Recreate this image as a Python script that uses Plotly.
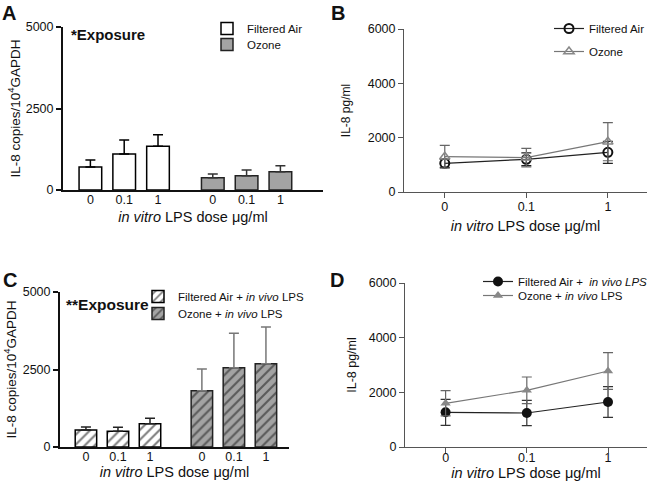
import plotly.graph_objects as go

doses = ["0", "0.1", "1"]

# Panel A (bars, copies/10^4 GAPDH)
a_fa = [705, 1104, 1340]
a_fa_err = [215, 430, 357]
a_oz = [378, 440, 562]
a_oz_err = [113, 173, 184]

# Panel B (IL-8 pg/ml)
b_fa = [1056, 1203, 1460]
b_fa_err = [147, 234, 404]
b_oz = [1300, 1265, 1851]
b_oz_err = [418, 343, 700]

# Panel C (bars, in vivo LPS)
c_fa = [548, 505, 753]
c_fa_err = [97, 129, 172]
c_oz = [1817, 2559, 2688]
c_oz_err = [699, 1108, 1183]

# Panel D (IL-8 pg/ml, in vivo LPS)
d_fa = [1269, 1244, 1646]
d_fa_err = [476, 460, 560]
d_oz = [1598, 2074, 2780]
d_oz_err = [462, 487, 671]

W, H = 654, 487
FONT = "Liberation Sans, Arial, sans-serif"
GRAY = "#a3a3a3"
GROUP_GAP = 1.62
BAR_W = 0.67

def px_x(p):
    return p / W

def px_y(p):
    return 1 - p / H

pos_fa = [i for i in range(len(doses))]
pos_oz = [i + len(doses) + GROUP_GAP - 1 for i in range(len(doses))]

fig = go.Figure()

xtitle = "<i>in vitro</i> LPS dose \u03bcg/ml"

# ---- Panel A ----
fig.add_trace(go.Bar(x=pos_fa, y=a_fa, width=BAR_W, name="Filtered Air",
                     marker=dict(color="white", line=dict(color="black", width=1.5)),
                     error_y=dict(type="data", symmetric=False, array=a_fa_err, arrayminus=[0]*3,
                                  color="black", thickness=1.5, width=5),
                     xaxis="x", yaxis="y", legend="legend"))
fig.add_trace(go.Bar(x=pos_oz, y=a_oz, width=BAR_W, name="Ozone",
                     marker=dict(color=GRAY, line=dict(color="#222", width=1.5)),
                     error_y=dict(type="data", symmetric=False, array=a_oz_err, arrayminus=[0]*3,
                                  color="#333", thickness=1.5, width=5),
                     xaxis="x", yaxis="y", legend="legend2"))

# ---- Panel B ----
fig.add_trace(go.Scatter(x=doses, y=b_fa, name="Filtered Air", mode="lines+markers",
                         line=dict(color="#222", width=1.2),
                         marker=dict(symbol="circle-open", size=9, color="#111", line=dict(width=2)),
                         error_y=dict(type="data", array=b_fa_err, color="#222", thickness=1.2, width=5),
                         xaxis="x2", yaxis="y2", legend="legend3"))
fig.add_trace(go.Scatter(x=doses, y=b_oz, name="Ozone", mode="lines+markers",
                         line=dict(color="#777", width=1.2),
                         marker=dict(symbol="triangle-up-open", size=9, color="#888", line=dict(width=1.5)),
                         error_y=dict(type="data", array=b_oz_err, color="#666", thickness=1.2, width=5),
                         xaxis="x2", yaxis="y2", legend="legend4"))

# ---- Panel C ----
fig.add_trace(go.Bar(x=pos_fa, y=c_fa, width=BAR_W, name="Filtered Air + <i>in vivo</i> LPS",
                     marker=dict(color="white", line=dict(color="black", width=1.5),
                                 pattern=dict(shape="/", fgcolor="black", bgcolor="white",
                                              size=7, solidity=0.3)),
                     error_y=dict(type="data", symmetric=False, array=c_fa_err, arrayminus=[0]*3,
                                  color="#222", thickness=1.5, width=5),
                     xaxis="x3", yaxis="y3", legend="legend5"))
fig.add_trace(go.Bar(x=pos_oz, y=c_oz, width=BAR_W, name="Ozone + <i>in vivo</i> LPS",
                     marker=dict(color=GRAY, line=dict(color="#222", width=1.5),
                                 pattern=dict(shape="/", fgcolor="#111", bgcolor=GRAY,
                                              size=7, solidity=0.3)),
                     error_y=dict(type="data", symmetric=False, array=c_oz_err, arrayminus=[0]*3,
                                  color="#777", thickness=1.5, width=5),
                     xaxis="x3", yaxis="y3", legend="legend6"))

# ---- Panel D ----
fig.add_trace(go.Scatter(x=doses, y=d_fa, name="Filtered Air +  <i>in vivo LPS</i>", mode="lines+markers",
                         line=dict(color="#222", width=1.2),
                         marker=dict(symbol="circle", size=10, color="#111"),
                         error_y=dict(type="data", array=d_fa_err, color="#333", thickness=1.2, width=5),
                         xaxis="x4", yaxis="y4", legend="legend7"))
fig.add_trace(go.Scatter(x=doses, y=d_oz, name="Ozone + <i>in vivo</i> LPS", mode="lines+markers",
                         line=dict(color="#777", width=1.2),
                         marker=dict(symbol="triangle-up", size=9, color="#888"),
                         error_y=dict(type="data", array=d_oz_err, color="#666", thickness=1.2, width=5),
                         xaxis="x4", yaxis="y4", legend="legend8"))

tickfont = dict(family=FONT, size=12.5, color="#111")
titlefont = dict(family=FONT, size=14.5, color="#111")

def bar_xaxis(dom, rng, tls, ts):
    return dict(domain=dom, range=rng, showgrid=False, zeroline=False, showline=True,
                linecolor="#111", linewidth=2, ticks="", tickmode="array",
                tickvals=pos_fa + pos_oz, ticktext=doses + doses, tickfont=tickfont,
                automargin=False, ticklabelstandoff=tls,
                title=dict(text=xtitle, font=titlefont, standoff=ts), fixedrange=True)

def line_xaxis(dom, anchor, tls, ts):
    return dict(domain=dom, type="category", range=[-0.5, 2.48], showgrid=False, zeroline=False,
                showline=True, linecolor="#555", linewidth=1, ticks="outside", ticklen=5,
                tickcolor="#555", tickfont=tickfont, anchor=anchor, automargin=False,
                ticklabelstandoff=tls,
                title=dict(text=xtitle, font=titlefont, standoff=ts))

def yaxis(dom, anchor, rng, dtick, title, lc, lw, tsize, standoff):
    return dict(domain=dom, anchor=anchor, range=rng, dtick=dtick, showgrid=False, zeroline=False,
                showline=True, linecolor=lc, linewidth=lw, ticks="outside", ticklen=5, tickcolor=lc,
                tickwidth=lw, tickfont=tickfont, automargin=False,
                title=dict(text=title, font=dict(family=FONT, size=tsize, color="#111"),
                           standoff=standoff))

ytitle_bar = "IL-8 copies/10<sup>4</sup>GAPDH"

def leg(xp, ytop):
    return dict(x=px_x(xp), y=px_y(ytop), xanchor="left", yanchor="top", bgcolor="rgba(0,0,0,0)",
                font=dict(family=FONT, size=11.5, color="#111"), tracegroupgap=0)

fig.update_layout(
    width=W, height=H, margin=dict(l=0, r=0, t=0, b=0, autoexpand=False),
    paper_bgcolor="white", plot_bgcolor="white", barmode="overlay",
    font=dict(family=FONT, color="#111"),
    xaxis=dict(**bar_xaxis([px_x(63), px_x(323)], [-0.81, 6.88], -3, 6), anchor="y"),
    yaxis=yaxis([px_y(190), px_y(27)], "x", [0, 5000], 2500, ytitle_bar, "#111", 2, 13.5, 2),
    xaxis2=line_xaxis([px_x(404), px_x(647)], "y2", -2, 7),
    yaxis2=yaxis([px_y(192), px_y(29)], "x2", [0, 6000], 2000, "IL-8 pg/ml", "#555", 1, 12, 14),
    xaxis3=dict(**bar_xaxis([px_x(60), px_x(289)], [-0.81, 6.34], -3, 3), anchor="y3"),
    yaxis3=yaxis([px_y(447), px_y(292)], "x3", [0, 5000], 2500, ytitle_bar, "#111", 2, 13.5, 3),
    xaxis4=line_xaxis([px_x(405), px_x(647)], "y4", -6, 3),
    yaxis4=yaxis([px_y(447), px_y(283)], "x4", [0, 6000], 2000, "IL-8 pg/ml", "#555", 1, 12.5, 9),
    legend=leg(207, 14), legend2=leg(207, 30),
    legend3=leg(549, 14), legend4=leg(549, 37),
    legend5=leg(138, 282), legend6=leg(138, 299),
    legend7=leg(478, 267), legend8=leg(478, 281),
    showlegend=True,
)

letters = [("A", 9, 13), ("B", 338, 13), ("C", 10, 280), ("D", 337, 280)]
for t, x, y in letters:
    fig.add_annotation(text="<b>%s</b>" % t, x=px_x(x), y=px_y(y), xref="paper", yref="paper",
                       xanchor="center", yanchor="middle",
                       showarrow=False, font=dict(family=FONT, size=20, color="#111"))

fig.add_annotation(text="<b>*Exposure</b>", x=px_x(69), y=px_y(34), xref="paper", yref="paper",
                   xanchor="left", yanchor="middle", showarrow=False,
                   font=dict(family=FONT, size=15, color="#111"))
fig.add_annotation(text="<b>**Exposure</b>", x=px_x(64), y=px_y(304), xref="paper", yref="paper",
                   xanchor="left", yanchor="middle", showarrow=False,
                   font=dict(family=FONT, size=15.5, color="#111"))

fig.write_html("out.html", config={"displayModeBar": False},
               post_script="document.body.style.margin='0';document.body.style.padding='0';")
